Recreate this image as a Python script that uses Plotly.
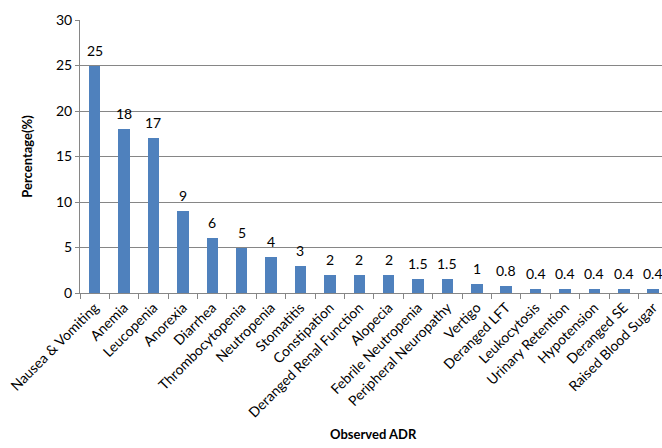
import plotly.graph_objects as go

categories = [
    "Nausea & Vomiting", "Anemia", "Leucopenia", "Anorexia", "Diarrhea",
    "Thrombocytopenia", "Neutropenia", "Stomatitis", "Constipation",
    "Deranged Renal Function", "Alopecia", "Febrile Neutropenia",
    "Peripheral Neuropathy", "Vertigo", "Deranged LFT", "Leukocytosis",
    "Urinary Retention", "Hypotension", "Deranged SE", "Raised Blood Sugar",
]
percentages = [25, 18, 17, 9, 6, 5, 4, 3, 2, 2, 2, 1.5, 1.5, 1, 0.8, 0.4, 0.4, 0.4, 0.4, 0.4]
y_ticks = [0, 5, 10, 15, 20, 25, 30]

FONT = "Lato, Open Sans, sans-serif"
x_pos = list(range(len(categories)))

fig = go.Figure(
    go.Bar(
        x=x_pos,
        y=percentages,
        width=0.39,
        marker=dict(color="#4F81BD", line=dict(width=0)),
        cliponaxis=False,
    )
)

# value labels sitting a little above each bar
value_labels = [
    dict(
        x=xi, y=v, xref="x", yref="y",
        text=f"{v:g}",
        showarrow=False,
        xanchor="center", yanchor="bottom",
        yshift=5,
        font=dict(family=FONT, size=14, color="#000000"),
    )
    for xi, v in zip(x_pos, percentages)
]

fig.update_layout(
    width=662,
    height=448,
    margin=dict(l=80, r=0, t=20, b=155),
    paper_bgcolor="white",
    plot_bgcolor="white",
    showlegend=False,
    bargap=0,
    font=dict(family=FONT, size=14, color="#000000"),
    annotations=value_labels + [
        dict(
            text="<b>Observed ADR</b>",
            xref="paper", yref="paper",
            x=0.505, y=-0.515,
            xanchor="center", yanchor="middle",
            showarrow=False,
            font=dict(family=FONT, size=13, color="#000000"),
        )
    ],
)

fig.update_xaxes(
    range=[-0.5, 19.3],
    tickmode="array",
    tickvals=x_pos,
    ticktext=categories,
    tickangle=-45,
    ticklabeloverflow="allow",
    showgrid=False,
    showline=True,
    linecolor="#868686",
    linewidth=1,
    ticks="",
    tickfont=dict(family=FONT, size=14),
    zeroline=False,
)

# tick marks between categories on the category axis
fig.update_xaxes(
    minor=dict(
        tickmode="array",
        tickvals=[i - 0.5 for i in range(len(categories) + 1)],
        ticks="outside",
        ticklen=5,
        tickcolor="#868686",
        showgrid=False,
    )
)

fig.update_yaxes(
    range=[0, 30],
    tickvals=y_ticks,
    showgrid=True,
    gridcolor="#868686",
    gridwidth=1,
    showline=True,
    linecolor="#868686",
    linewidth=1,
    ticks="outside",
    ticklen=4,
    tickcolor="#868686",
    tickfont=dict(family=FONT, size=14),
    zeroline=False,
    title=dict(
        text="<b>Percentage(%)</b>",
        font=dict(family=FONT, size=13),
        standoff=20,
    ),
)

fig.write_html("out.html")
